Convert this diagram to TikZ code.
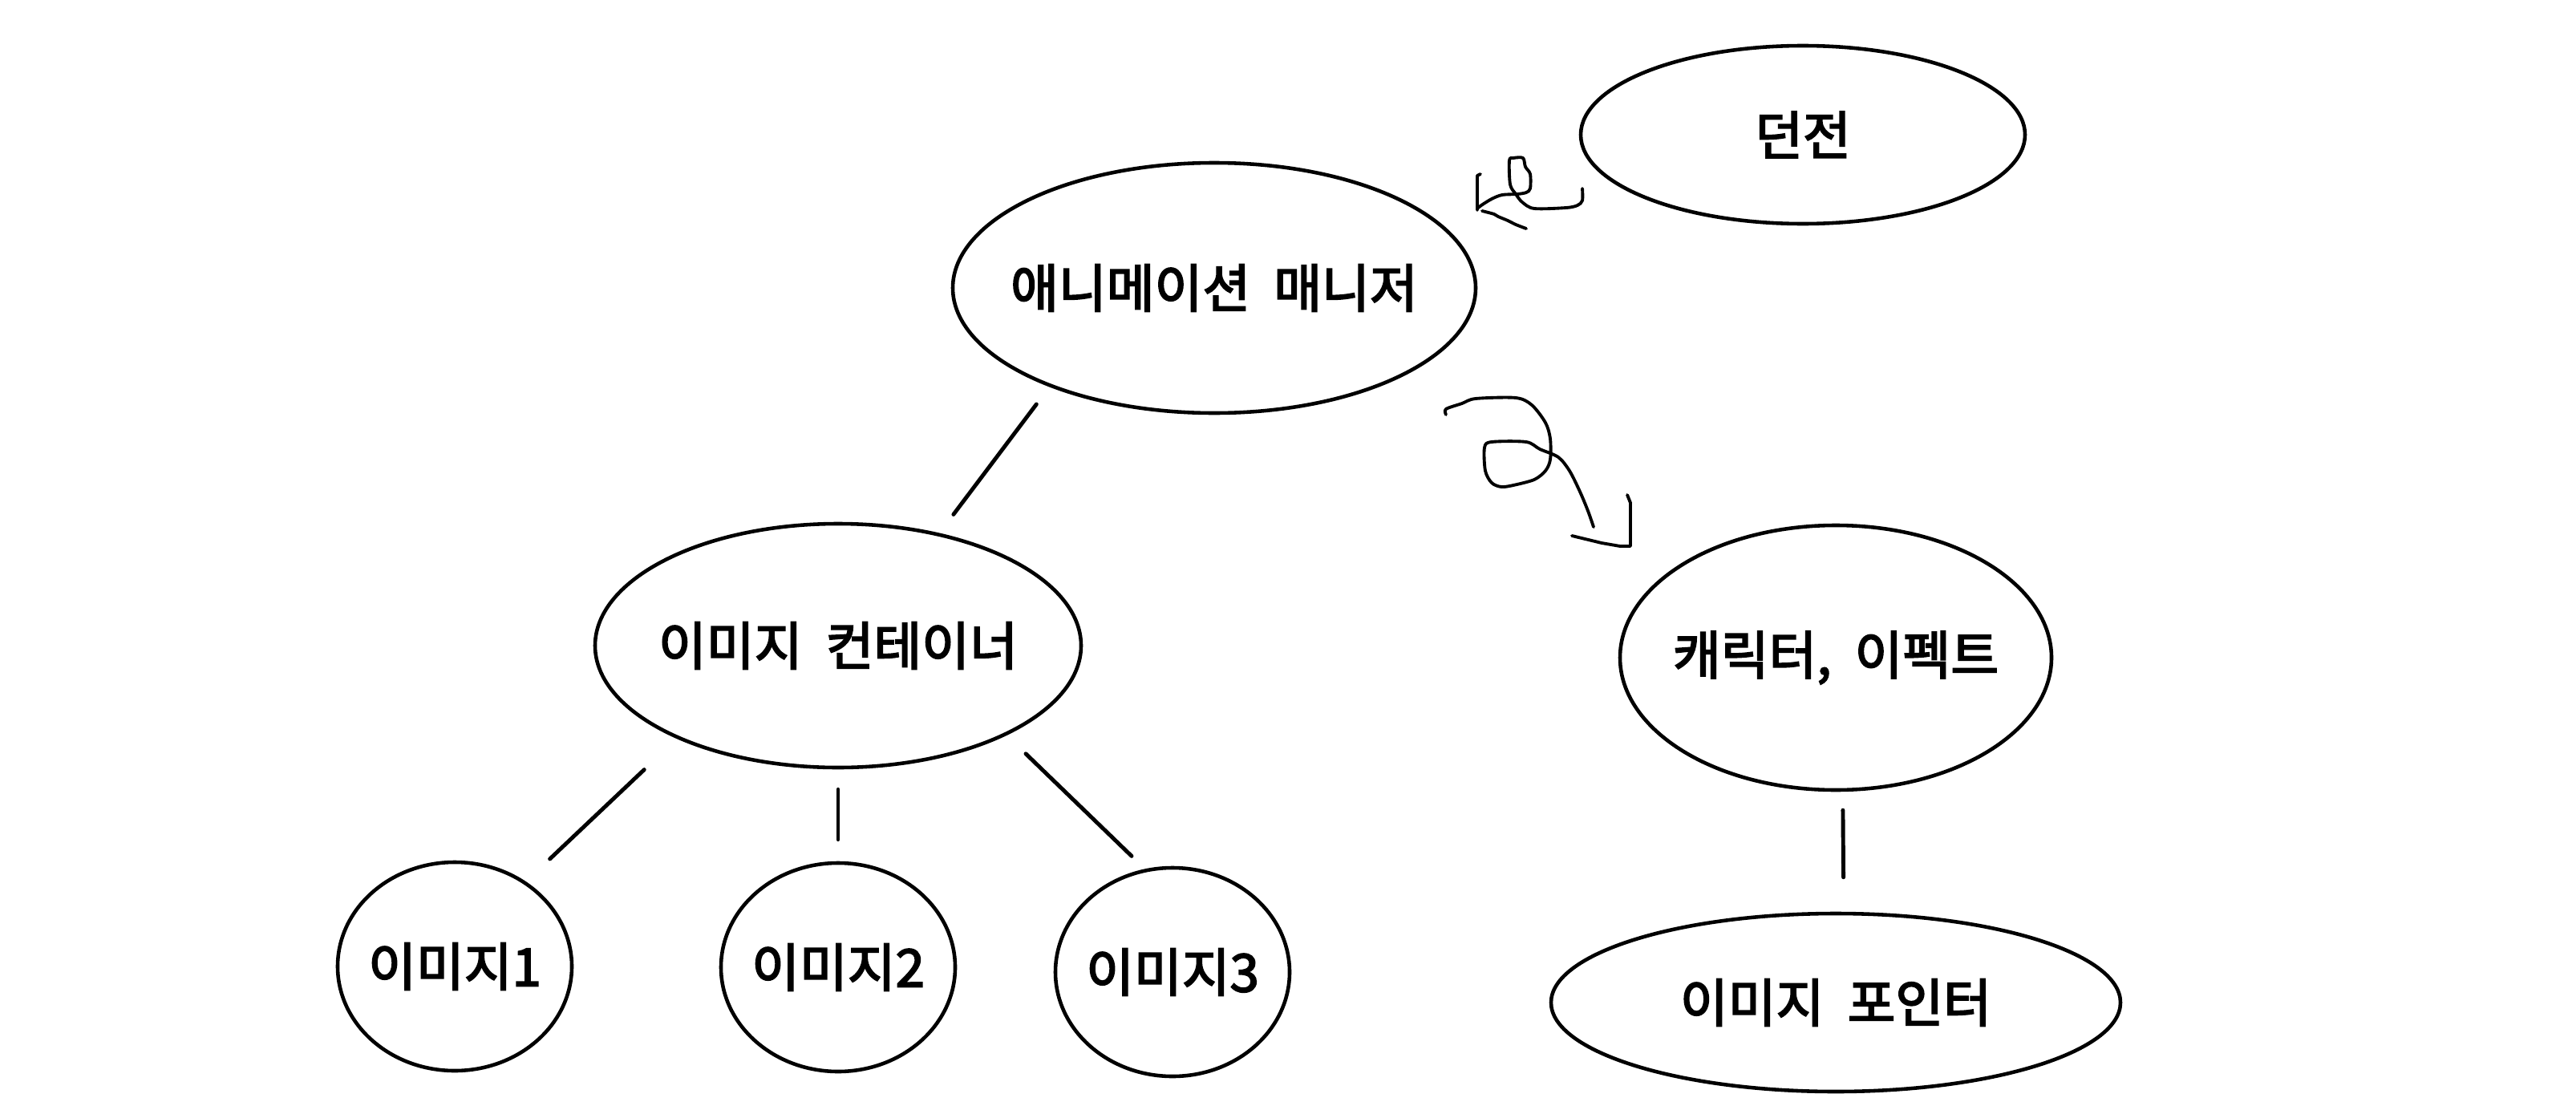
\documentclass[tikz,border=0pt]{standalone}
\usepackage{fontspec}
\setmainfont{Noto Sans CJK KR}[WordSpace=2, FakeBold=3]
\usepackage{tikz}
\usetikzlibrary{positioning,shapes.geometric}

\tikzset{
  bubble/.style={ellipse, draw, line width=1.3pt, inner sep=0pt},
  link/.style={line width=1.4pt, line cap=round},
  scribble/.style={line width=1.1pt, line cap=round, line join=round}
}

\begin{document}
\begin{tikzpicture}[on grid, font=\fontsize{18.5pt}{22pt}\selectfont]
  \useasboundingbox (0,0) rectangle (32.12,-13.74);
  \node[bubble, minimum width=6.52cm, minimum height=3.12cm, label={center:애니메이션 매니저}] (mgr) at (15.14,-3.59) {};
  \node[bubble, minimum width=5.54cm, minimum height=2.22cm, label={center:던전}] (dungeon) [above right=1.91cm and 7.34cm of mgr] {};
  \node[bubble, minimum width=6.06cm, minimum height=3.04cm, label={center:이미지 컨테이너}] (cont) [below left=4.46cm and 4.69cm of mgr] {};
  \node[bubble, minimum width=5.38cm, minimum height=3.30cm, label={center:캐릭터, 이펙트}] (charfx) [below right=4.61cm and 7.75cm of mgr] {};
  \node[bubble, minimum width=2.92cm, minimum height=2.60cm, label={center:이미지1}] (img1) [below left=4.00cm and 4.78cm of cont] {};
  \node[bubble, minimum width=2.92cm, minimum height=2.60cm, label={center:이미지2}] (img2) [below=4.01cm of cont] {};
  \node[bubble, minimum width=2.92cm, minimum height=2.60cm, label={center:이미지3}] (img3) [below right=4.07cm and 4.17cm of cont] {};
  \node[bubble, minimum width=7.10cm, minimum height=2.22cm, label={center:이미지 포인터}] (ptr) [below=4.30cm of charfx] {};
  \path[link]
    (mgr.211) edge[shorten <=2.7mm, shorten >=2.9mm] (cont.48)
    (cont.210) edge[shorten <=5.6mm, shorten >=4.1mm] (img1.50)
    (cont.south) edge[shorten <=2.5mm, shorten >=2.7mm] (img2.north)
    (cont.332) edge[shorten <=3.3mm, shorten >=2.3mm] (img3.105)
    (charfx.-87) edge[shorten <=2.3mm, shorten >=4.3mm] (ptr.85);
  % scribbled arrows
  \draw[scribble] plot[smooth, tension=0.5] coordinates {(19.73,-2.35) (19.73,-2.50) (19.67,-2.56) (19.53,-2.59) (19.13,-2.60) (18.98,-2.52) (18.90,-2.42) (18.83,-2.30) (18.82,-2.00) (18.87,-1.97) (18.99,-1.97) (19.02,-2.08) (19.08,-2.17) (19.08,-2.35) (19.03,-2.40) (18.92,-2.42) (18.73,-2.43) (18.60,-2.48) (18.47,-2.56) (18.42,-2.60)};
  \draw[scribble] (18.46,-2.17) -- (18.42,-2.19) -- (18.42,-2.62);
  \draw[scribble] plot[smooth, tension=0.5] coordinates {(18.48,-2.63) (18.63,-2.67) (18.68,-2.70) (18.80,-2.75) (18.90,-2.80) (19.03,-2.85)};
  \draw[scribble] plot[smooth, tension=0.5] coordinates {(18.03,-5.17) (18.03,-5.10) (18.23,-5.03) (18.40,-4.97) (18.90,-4.96) (19.10,-5.05) (19.27,-5.27) (19.33,-5.47) (19.33,-5.73) (19.27,-5.87) (19.13,-5.98) (18.87,-6.05) (18.72,-6.07) (18.60,-6.02) (18.52,-5.87) (18.51,-5.58) (18.60,-5.51) (19.03,-5.51) (19.20,-5.60) (19.43,-5.70) (19.57,-5.87) (19.70,-6.13) (19.80,-6.37) (19.87,-6.57)};
  \draw[scribble] (20.29,-6.17) -- (20.33,-6.27) -- (20.33,-6.81) -- (20.20,-6.81) -- (19.97,-6.77) -- (19.60,-6.68);
\end{tikzpicture}
\end{document}
